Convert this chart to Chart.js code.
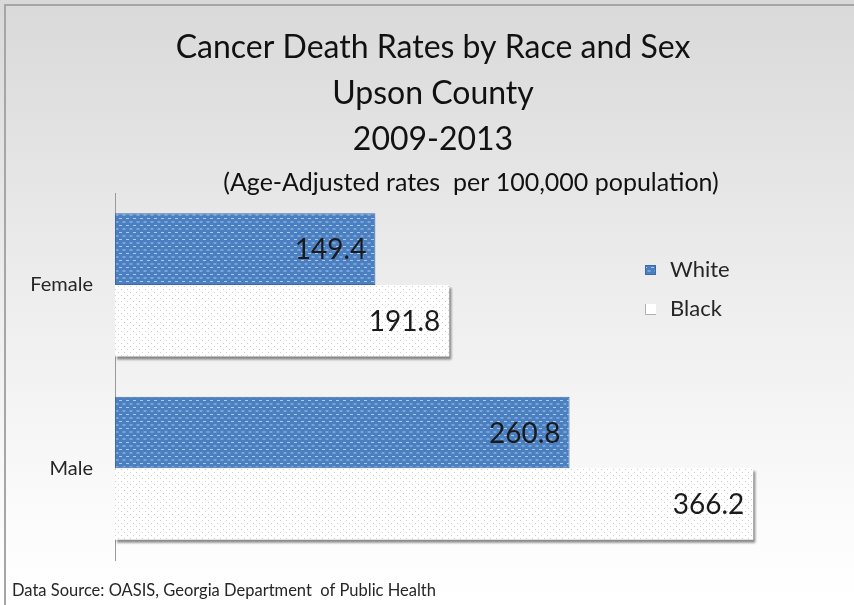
<!DOCTYPE html>
<html lang="en">
<head>
    <meta charset="UTF-8">
    <title>Cancer Death Rates by Race and Sex</title>
    <script src="https://cdn.jsdelivr.net/npm/chart.js"></script>
    <style>
        html, body { margin: 0; padding: 0; background: #fff; }
        #wrap { width: 854px; height: 605px; }
    </style>
</head>
<body>
<div id="wrap"><canvas id="myChart" width="854" height="605"></canvas></div>

<script>
    // chart data
    const categories = ['Female', 'Male'];
    const seriesNames = ['White', 'Black'];
    const whiteRates = [149.4, 260.8];
    const blackRates = [191.8, 366.2];
    const titleLines = ['Cancer Death Rates by Race and Sex', 'Upson County', '2009-2013'];
    const subtitleText = '(Age-Adjusted rates  per 100,000 population)';
    const sourceText = 'Data Source: OASIS, Georgia Department  of Public Health';

    const FONT = 'Lato, "Noto Sans", sans-serif';

    // little tiles used as bar fills
    function makePattern(w, h, bg, dots) {
        var c = document.createElement('canvas');
        c.width = w;
        c.height = h;
        var g = c.getContext('2d');
        g.fillStyle = bg;
        g.fillRect(0, 0, w, h);
        dots.forEach(function (d) {
            g.fillStyle = d[4];
            g.fillRect(d[0], d[1], d[2], d[3]);
        });
        return g.createPattern(c, 'repeat');
    }

    var ctx = document.getElementById('myChart').getContext('2d');
    var bluePattern = makePattern(7, 7, '#4b7fc0', [
        [0, 1, 3, 1, '#a6cbf3'], [3.5, 4.5, 3, 1, '#a6cbf3']
    ]);
    var dotPattern = makePattern(6, 6, '#ffffff', [
        [1, 1, 1, 1, '#cfcfcf'], [4, 4, 1, 1, '#cfcfcf']
    ]);

    // background gradient and frame
    const backdrop = {
        id: 'backdrop',
        beforeDraw(chart) {
            var c = chart.ctx;
            var grad = c.createLinearGradient(0, 0, 0, chart.height);
            grad.addColorStop(0, '#d9d9d9');
            grad.addColorStop(0.45, '#ececec');
            grad.addColorStop(0.85, '#fbfbfb');
            grad.addColorStop(1, '#ffffff');
            c.save();
            c.fillStyle = grad;
            c.fillRect(0, 0, chart.width, chart.height);
            c.strokeStyle = '#a6a6a6';
            c.lineWidth = 2;
            c.beginPath();
            c.moveTo(5, chart.height);
            c.lineTo(5, 5);
            c.lineTo(chart.width, 5);
            c.stroke();
            c.restore();
        }
    };

    // soft shadow under the Black bars
    const barShadow = {
        id: 'barShadow',
        beforeDatasetDraw(chart, args) {
            if (args.index !== 1) return;
            var c = chart.ctx;
            c.shadowColor = 'rgba(0,0,0,0.45)';
            c.shadowOffsetX = 2;
            c.shadowOffsetY = 3;
            c.shadowBlur = 2;
        },
        afterDatasetDraw(chart, args) {
            if (args.index !== 1) return;
            var c = chart.ctx;
            c.shadowColor = 'rgba(0,0,0,0)';
            c.shadowOffsetX = 0;
            c.shadowOffsetY = 0;
            c.shadowBlur = 0;
        }
    };

    // values inside the bar ends, subtitle, legend and source note
    const extras = {
        id: 'extras',
        afterDatasetsDraw(chart) {
            var c = chart.ctx;
            c.save();
            c.font = '28px ' + FONT;
            c.fillStyle = '#1a1a1a';
            c.textAlign = 'right';
            c.textBaseline = 'middle';
            chart.data.datasets.forEach(function (ds, i) {
                chart.getDatasetMeta(i).data.forEach(function (bar, j) {
                    c.fillText(ds.data[j].toFixed(1), bar.x - 9, bar.y + 1);
                });
            });

            // subtitle sits a bit right of the title in the original
            c.textAlign = 'center';
            c.font = '25px ' + FONT;
            c.fillStyle = '#111111';
            c.fillText(subtitleText, 471, 183);

            // legend
            c.font = '22px ' + FONT;
            c.textAlign = 'left';
            var lx = 645, ly = [270, 309];
            chart.data.datasets.forEach(function (ds, i) {
                var y = ly[i];
                if (i === 0) {
                    c.fillStyle = bluePattern;
                    c.fillRect(lx, y - 5, 11, 10);
                    c.strokeStyle = '#3d6aa5';
                    c.lineWidth = 1;
                    c.strokeRect(lx + 0.5, y - 4.5, 10, 9);
                } else {
                    c.fillStyle = '#ffffff';
                    c.fillRect(lx, y - 5, 11, 10);
                    c.strokeStyle = '#b0b0b0';
                    c.beginPath();
                    c.moveTo(lx + 0.5, y - 5);
                    c.lineTo(lx + 0.5, y + 5.5);
                    c.lineTo(lx + 11, y + 5.5);
                    c.stroke();
                }
                c.fillStyle = '#262626';
                c.fillText(ds.label, lx + 25, y);
            });

            c.font = '16.5px ' + FONT;
            c.fillStyle = '#262626';
            c.fillText(sourceText, 12, 591);
            c.restore();
        }
    };

    var myChart = new Chart(ctx, {
        type: 'bar',
        data: {
            labels: categories,
            datasets: [{
                label: seriesNames[0],
                data: whiteRates,
                backgroundColor: bluePattern,
                borderColor: '#3d6aa5',
                borderWidth: 1,
                borderSkipped: false
            }, {
                label: seriesNames[1],
                data: blackRates,
                backgroundColor: dotPattern,
                borderWidth: 0
            }]
        },
        options: {
            indexAxis: 'y',
            responsive: false,
            animation: false,
            events: [],
            categoryPercentage: 0.78,
            barPercentage: 1.0,
            layout: { padding: { top: 0, right: 0, bottom: 45, left: 12 } },
            scales: {
                x: {
                    display: false,
                    min: 0,
                    max: 424
                },
                y: {
                    grid: { display: false },
                    border: { display: true, color: '#9a9a9a', width: 1 },
                    ticks: {
                        color: '#262626',
                        font: { family: FONT, size: 20 },
                        padding: 14
                    },
                    afterFit(scale) { scale.width = 103; }
                }
            },
            plugins: {
                legend: { display: false },
                tooltip: { enabled: false },
                title: {
                    display: true,
                    text: titleLines,
                    color: '#111111',
                    font: { family: FONT, size: 32, weight: 'normal', lineHeight: 1.45 },
                    padding: { top: 24, bottom: 30 }
                }
            }
        },
        plugins: [backdrop, barShadow, extras]
    });
</script>
</body>
</html>
